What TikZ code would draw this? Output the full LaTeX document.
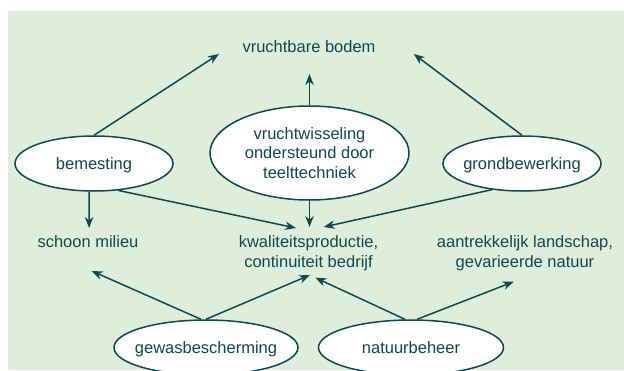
\documentclass[tikz,border=0pt]{standalone}
\usepackage{fontspec}
\setmainfont{Liberation Sans}
\usetikzlibrary{arrows.meta,shapes.geometric}
\definecolor{ink}{RGB}{14,72,82}
\definecolor{bg}{RGB}{223,238,219}
\begin{document}
\begin{tikzpicture}[x=1pt,y=-1pt,
  lbl/.style={font=\fontsize{16.5}{19.5}\selectfont, text=ink, inner sep=0pt, align=center},
  oval/.style={ellipse, draw=ink, line width=1.5pt, fill=white, lbl, inner xsep=-8pt, inner ysep=0pt},
  oneline/.style={text height=12pt, text depth=0pt},
  arr/.style={draw=ink, line width=1.5pt, -{Stealth[length=11pt,width=8.5pt,inset=3.5pt]}}]
\clip (0,0) rectangle (624,370);
\fill[bg] (8,11) rectangle (624,370);
% nodes
\node[lbl] (vb) at (309,47) {vruchtbare bodem};
\node[oval, oneline, minimum width=158pt, minimum height=55pt] (bem) at (94,163.5) {bemesting};
\node[oval, minimum width=199pt, minimum height=94pt] (vw) at (309.5,153) {vruchtwisseling\\ondersteund door\\teelttechniek};
\node[oval, oneline, minimum width=158pt, minimum height=55pt] (grond) at (522,163.5) {grondbewerking};
\node[lbl] (sm) at (88,241.7) {schoon milieu};
\node[lbl] (kw) at (308.5,253) {kwaliteitsproductie,\\continuiteit bedrijf};
\node[lbl] (aa) at (525,253) {aantrekkelijk landschap,\\gevarieerde natuur};
\node[oval, oneline, minimum width=184pt, minimum height=55pt] (gew) at (206,347.5) {gewasbescherming};
\node[oval, oneline, minimum width=185pt, minimum height=55pt] (nat) at (411,347.5) {natuurbeheer};
% arrow tips
\coordinate (t1) at (219,54);
\coordinate (t2) at (309.5,74);
\coordinate (t3) at (413.7,54);
\coordinate (t4) at (89.1,228);
\coordinate (t5) at (296,228);
\coordinate (t6) at (309.5,227);
\coordinate (t7) at (323.7,227);
\coordinate (t8) at (91.7,271);
\coordinate (t9) at (310,275);
\coordinate (t10) at (315.3,277.7);
\coordinate (t11) at (513.7,281.7);
% connectors
\draw[arr] (bem.north) -- (t1);
\draw[arr] (vw.north) -- (t2);
\draw[arr] (grond.north) -- (t3);
\draw[arr] (bem.260) -- (t4);
\draw[arr] (bem.312) -- (t5);
\draw[arr] (vw.south) -- (t6);
\draw[arr] (grond.221) -- (t7);
\draw[arr] (gew.100) -- (t8);
\draw[arr] (gew.90) -- (t9);
\draw[arr] (nat.102) -- (t10);
\draw[arr] (nat.78) -- (t11);
\end{tikzpicture}
\end{document}
